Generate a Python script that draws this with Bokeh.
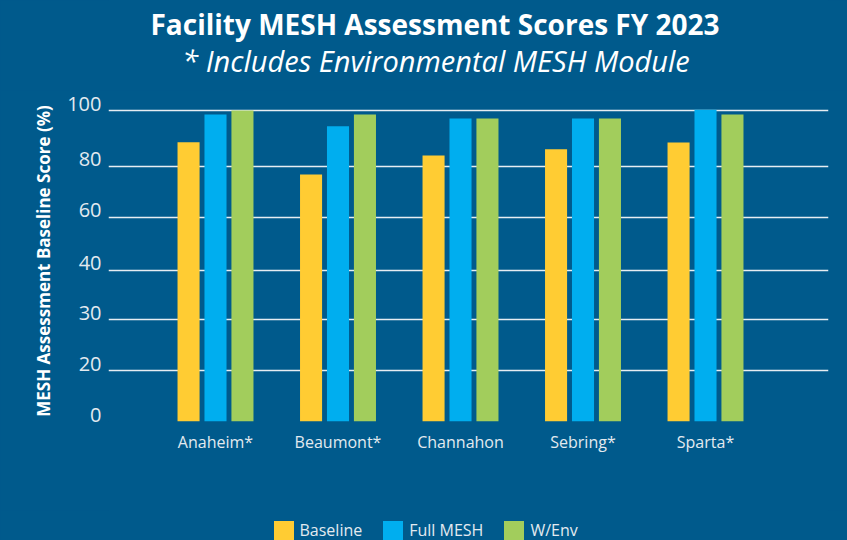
from bokeh.plotting import figure
from bokeh.layouts import column
from bokeh.models import (ColumnDataSource, FixedTicker, Label, Legend, LegendItem, Range1d)
from bokeh.transform import dodge
from bokeh.embed import file_html
from bokeh.resources import INLINE

facilities = ["Anaheim*", "Beaumont*", "Channahon", "Sebring*", "Sparta*"]
baseline = [89.8, 79.4, 85.5, 87.5, 89.7]
full_mesh = [98.7, 94.9, 97.4, 97.4, 100.2]
w_env = [100.0, 98.7, 97.4, 97.4, 98.7]
series_names = ["Baseline", "Full MESH", "W/Env"]
series_colors = ["#FFCC33", "#00AEEF", "#A2CD5C"]
y_tick_positions = [0, 16.4, 32.8, 48.6, 65.7, 82.1, 100]
y_tick_labels = ["0", "20", "30", "40", "60", "80", "100"]
title_text = "Facility MESH Assessment Scores FY 2023"
subtitle_text = "* Includes Environmental MESH Module"
y_axis_title = "MESH Assessment Baseline Score (%)"

BG = "#005A8C"
FONT = "Open Sans"
LIGHT = "#E3EAF0"
W = 847
FRAME_LEFT = 108

idx = list(range(len(facilities)))
src = ColumnDataSource(dict(idx=idx, baseline=baseline, full_mesh=full_mesh, w_env=w_env))
cols = ["baseline", "full_mesh", "w_env"]
offsets = [-0.22, 0.0, 0.22]


def blank(height, x_range, y_range):
    f = figure(width=W, height=height, output_backend="svg", toolbar_location=None, title=None,
               x_range=x_range, y_range=y_range,
               x_axis_location=None, y_axis_location=None,
               min_border=0, background_fill_color=BG, border_fill_color=BG,
               outline_line_color=None)
    f.grid.visible = False
    return f


# ---- header with title + subtitle
header = blank(90, Range1d(0, 1), Range1d(0, 1))
header.add_layout(Label(x=434.5 - FRAME_LEFT, y=67, x_units="screen", y_units="screen",
                        text=title_text, text_align="center", text_baseline="alphabetic",
                        text_font=FONT, text_font_style="bold", text_font_size="28px",
                        text_color="white"))
header.add_layout(Label(x=435.5 - FRAME_LEFT, y=30, x_units="screen", y_units="screen",
                        text=subtitle_text, text_align="center", text_baseline="alphabetic",
                        text_font=FONT, text_font_style="italic", text_font_size="29px",
                        text_color="white"))

# ---- main chart
chart = figure(width=W, height=420, output_backend="svg", toolbar_location=None, title=None,
               x_range=Range1d(-0.8735, 5.004), y_range=Range1d(0, 103.2),
               min_border_left=FRAME_LEFT, min_border_right=19, min_border_top=10,
               min_border_bottom=89,
               background_fill_color=BG, border_fill_color=BG, outline_line_color=None)

for col, off, color in zip(cols, offsets, series_colors):
    chart.vbar(x=dodge("idx", off, range=chart.x_range), top=col, width=0.18, bottom=0,
               source=src, fill_color=color, line_color=None)

chart.xaxis.ticker = FixedTicker(ticks=idx)
chart.xaxis.major_label_overrides = {i: f for i, f in zip(idx, facilities)}
chart.xaxis.axis_line_color = None
chart.xaxis.major_tick_line_color = None
chart.xaxis.minor_tick_line_color = None
chart.xaxis.major_label_text_font = FONT
chart.xaxis.major_label_text_font_size = "16px"
chart.xaxis.major_label_text_color = LIGHT
chart.xaxis.major_label_standoff = 3

# y tick labels sit just above their grid lines
label_lift = 2.2
y_label_ticks = [round(t + label_lift, 3) for t in y_tick_positions]
chart.yaxis.ticker = FixedTicker(ticks=y_label_ticks)
chart.yaxis.major_label_overrides = {t: l for t, l in zip(y_label_ticks, y_tick_labels)}
chart.yaxis.axis_line_color = None
chart.yaxis.major_tick_line_color = None
chart.yaxis.minor_tick_line_color = None
chart.yaxis.major_label_text_font = FONT
chart.yaxis.major_label_text_font_size = "20px"
chart.yaxis.major_label_text_color = LIGHT
chart.yaxis.major_label_standoff = 1
chart.yaxis.axis_label = y_axis_title
chart.yaxis.axis_label_text_font = FONT
chart.yaxis.axis_label_text_font_style = "bold"
chart.yaxis.axis_label_text_font_size = "17px"
chart.yaxis.axis_label_text_color = "white"
chart.yaxis.axis_label_standoff = 9

chart.xgrid.grid_line_color = None
chart.ygrid.ticker = FixedTicker(ticks=y_tick_positions)
chart.ygrid.grid_line_color = "#E6EDF2"
chart.ygrid.grid_line_width = 1.6

# ---- legend strip (series drawn again far outside its view, only to supply swatches)
leg = blank(30, Range1d(50, 51), Range1d(500, 501))
items = []
for name, col, off, color in zip(series_names, cols, offsets, series_colors):
    r = leg.vbar(x=dodge("idx", off, range=leg.x_range), top=col, width=0.18, bottom=0,
                 source=src, fill_color=color, line_color=None)
    items.append(LegendItem(label=name, renderers=[r]))
leg.add_layout(Legend(items=items, orientation="horizontal",
                      location=(270.5 - FRAME_LEFT, -2.5),
                      glyph_width=25, glyph_height=25, label_standoff=4, spacing=18,
                      padding=0, margin=0, background_fill_alpha=0, border_line_color=None,
                      label_text_font=FONT, label_text_font_size="16px",
                      label_text_color=LIGHT))

p = column(header, chart, leg, spacing=0)

html = file_html(p, INLINE)
html = html.replace("<body>", '<body style="background-color:%s">' % BG)
open("out.html", "w").write(html)
